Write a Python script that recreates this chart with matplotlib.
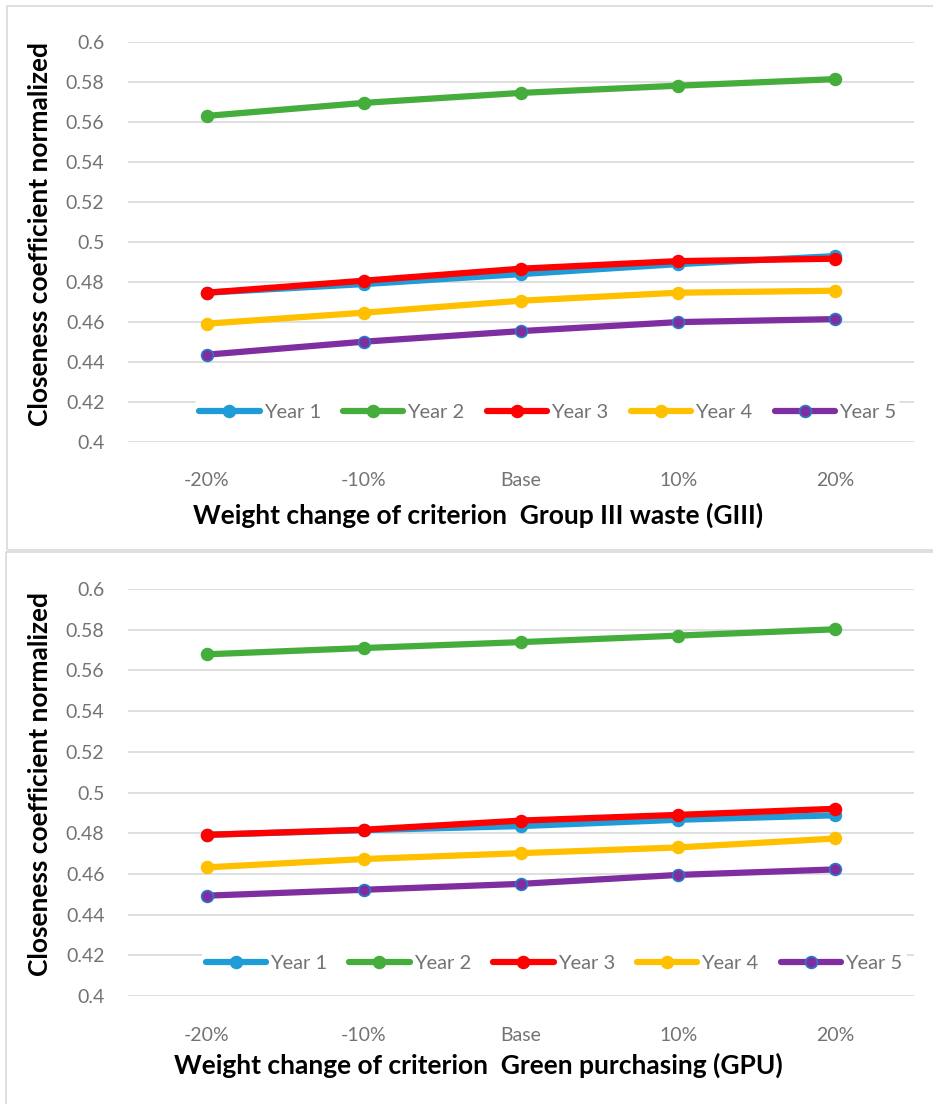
import matplotlib
matplotlib.use("Agg")
import matplotlib.pyplot as plt
from matplotlib.patches import Rectangle

plt.rcParams["font.family"] = ["Lato", "DejaVu Sans"]

categories = ["-20%", "-10%", "Base", "10%", "20%"]
series_names = ["Year 1", "Year 2", "Year 3", "Year 4", "Year 5"]

# Panel 1: Group III waste (GIII)
giii_year1 = [0.4745, 0.4788, 0.4838, 0.4888, 0.4928]
giii_year2 = [0.5629, 0.5694, 0.5744, 0.5780, 0.5813]
giii_year3 = [0.4745, 0.4805, 0.4865, 0.4903, 0.4915]
giii_year4 = [0.4590, 0.4645, 0.4705, 0.4745, 0.4755]
giii_year5 = [0.4435, 0.4500, 0.4553, 0.4598, 0.4613]

# Panel 2: Green purchasing (GPU)
gpu_year1 = [0.4792, 0.4815, 0.4835, 0.4866, 0.4888]
gpu_year2 = [0.5679, 0.5710, 0.5739, 0.5771, 0.5802]
gpu_year3 = [0.4792, 0.4817, 0.4862, 0.4890, 0.4920]
gpu_year4 = [0.4632, 0.4673, 0.4702, 0.4730, 0.4774]
gpu_year5 = [0.4493, 0.4522, 0.4551, 0.4595, 0.4622]

y_ticks = [0.4, 0.42, 0.44, 0.46, 0.48, 0.5, 0.52, 0.54, 0.56, 0.58, 0.6]

colors = ["#1f9bd8", "#45ad3c", "#ff0000", "#ffc000", "#7f2ea0"]
edge_colors = ["#1f9bd8", "#45ad3c", "#ff0000", "#ffc000", "#2a78c8"]

W, H = 933, 1104
fig = plt.figure(figsize=(W / 100, H / 100), dpi=100)

# chart-area borders (Excel style)
fig.patches.append(Rectangle((7 / W, 1 - 550 / H), 940 / W, 544 / H,
                             transform=fig.transFigure, fill=False,
                             edgecolor="#d9d9d9", linewidth=1.2))
fig.patches.append(Rectangle((6 / W, -0.01), 940 / W, 1 - 552 / H + 0.01,
                             transform=fig.transFigure, fill=False,
                             edgecolor="#d9d9d9", linewidth=1.2))


def draw_panel(rect, data, xlabel, xlabel_y, legend_x, legend_y):
    ax = fig.add_axes(rect)
    x = list(range(len(categories)))
    for name, vals, c, ec in zip(series_names, data, colors, edge_colors):
        ax.plot(x, vals, color=c, linewidth=4.5, marker="o", markersize=8.5,
                markerfacecolor=c, markeredgecolor=ec, markeredgewidth=1.2,
                label=name, solid_capstyle="round")
    ax.set_xlim(-0.5, len(categories) - 0.5)
    ax.set_ylim(0.4, 0.6)
    ax.set_yticks(y_ticks)
    ax.set_yticklabels([f"{v:g}" for v in y_ticks])
    ax.set_xticks(x)
    ax.set_xticklabels(categories)
    ax.grid(True, axis="y", color="#d9d9d9", linewidth=1.2)
    ax.set_axisbelow(True)
    for s in ax.spines.values():
        s.set_visible(False)
    ax.tick_params(axis="both", length=0, labelsize=14, labelcolor="#737373")
    ax.tick_params(axis="y", pad=17)
    ax.tick_params(axis="x", pad=22)
    ax.set_ylabel("Closeness coefficient normalized", fontsize=19,
                  fontweight="bold", color="black")
    ax.yaxis.set_label_coords(-0.097, 0.52)
    fig.text(478 / W, 1 - xlabel_y / H, xlabel, ha="center", va="center",
             fontsize=19, fontweight="bold", color="black")
    ax.legend(loc="center", bbox_to_anchor=(legend_x, legend_y), ncol=5,
              frameon=True, facecolor="white", edgecolor="none",
              framealpha=1, fontsize=14.5, handlelength=3.0,
              handletextpad=0.2, columnspacing=1.1, borderpad=0.2,
              labelcolor="#737373")
    return ax


draw_panel([128 / W, 1 - 441.7 / H, 786 / W, 400 / H],
           [giii_year1, giii_year2, giii_year3, giii_year4, giii_year5],
           "Weight change of criterion  Group III waste (GIII)", 515,
           0.534, 0.074)
draw_panel([128 / W, 1 - 996 / H, 786 / W, 407 / H],
           [gpu_year1, gpu_year2, gpu_year3, gpu_year4, gpu_year5],
           "Weight change of criterion  Green purchasing (GPU)", 1065,
           0.542, 0.081)

fig.savefig("out.png", dpi=100)
